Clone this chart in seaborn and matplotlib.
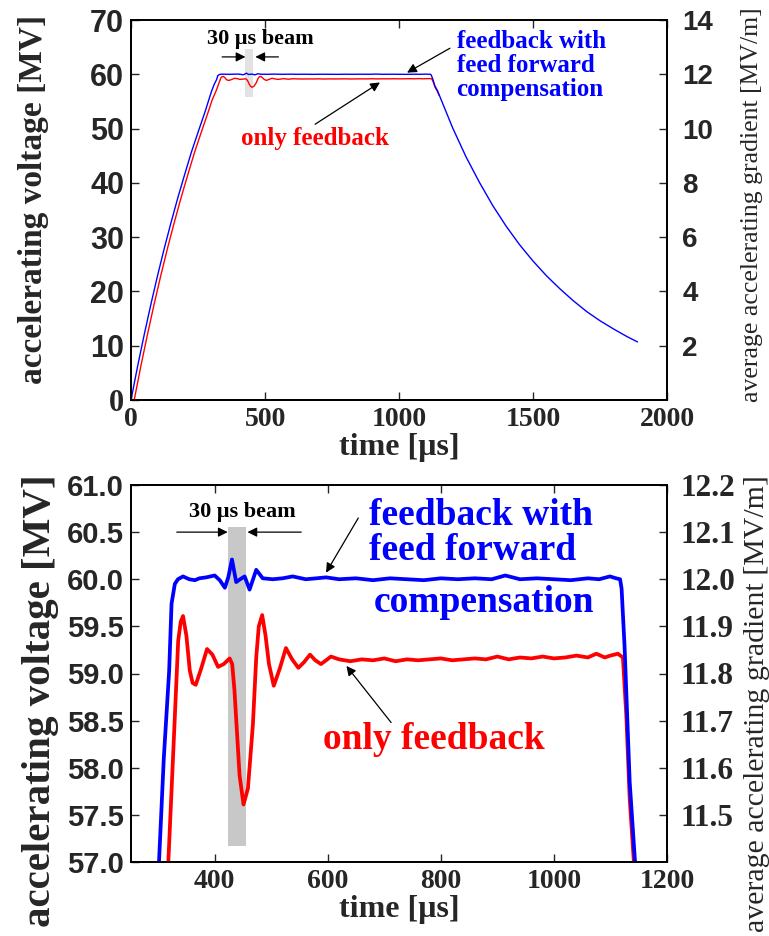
import matplotlib
matplotlib.use("Agg")
import matplotlib.pyplot as plt
from matplotlib.patches import Rectangle
import seaborn as sns
import numpy as np

# ---------------- data ----------------
t_blue = [0, 25, 50, 75, 100, 125, 150, 175, 200, 225, 250, 275, 300,
          310, 319.5, 323.7, 329.5, 335, 344, 355, 365, 373, 385, 400, 409, 418,
          424, 430.6, 438, 445, 453, 461.7, 473.5, 485, 503, 520, 538, 561, 580,
          597, 620, 650, 680, 710, 740, 770, 800, 830, 860, 890, 914, 940, 970,
          1000, 1030, 1060, 1080, 1099, 1110, 1117, 1119.7, 1125, 1134, 1144,
          1150, 1200, 1250, 1300, 1350, 1400, 1450, 1500, 1550, 1600, 1650,
          1700, 1750, 1800, 1850, 1890]
v_blue = [0, 6.3, 12.2, 17.8, 23.1, 28.1, 32.8, 37.3, 41.5, 45.6, 49.3, 52.9, 56.8,
          58.1, 59.03, 59.74, 59.95, 60.0, 60.03, 60.0, 59.99, 60.01, 60.02, 60.04, 59.99, 59.91,
          60.02, 60.21, 59.97, 60.0, 60.03, 59.89, 60.10, 60.01, 60.0, 60.01, 60.03, 60.0, 60.01,
          60.02, 60.0, 60.01, 59.99, 60.01, 60.0, 59.99, 60.01, 60.0, 60.01, 60.0, 60.04, 60.0, 60.01,
          60.0, 59.99, 60.01, 60.0, 60.03, 60.01, 60.0, 59.9, 59.28, 57.85, 56.95,
          56.2, 50.15, 44.8, 40.1, 35.8, 32.0, 28.6, 25.6, 22.9, 20.5, 18.3,
          16.3, 14.6, 13.1, 11.7, 10.7]

t_red = [12, 37, 62, 87, 112, 137, 162, 187, 212, 237, 262, 287, 303,
         317.8, 327, 335.5, 340, 344, 350, 356, 361, 366.5, 376, 386.5, 396, 406,
         416, 426.5, 431, 435, 444, 451, 458.8, 467.6, 473.5, 478, 484, 490, 496,
         504.5, 515, 526, 537, 548, 558, 568.6, 578, 588, 597, 605.6, 620, 640,
         660, 680, 700, 720, 740, 760, 780, 800, 820, 840, 860, 880, 900, 920,
         940, 960, 980, 1000, 1020, 1040, 1060, 1075, 1090, 1100, 1113, 1122,
         1128, 1134, 1142, 1150]
v_red = [0, 6.3, 12.2, 17.8, 23.1, 28.1, 32.8, 37.3, 41.5, 45.6, 49.3, 52.9, 55.3,
         56.97, 58.2, 59.35, 59.55, 59.61, 59.4, 59.03, 58.9, 58.88, 59.05, 59.26, 59.2, 59.07,
         59.1, 59.16, 59.1, 58.82, 57.92, 57.61, 57.78, 58.46, 59.17, 59.5, 59.62, 59.4, 59.1,
         58.87, 59.05, 59.27, 59.15, 59.06, 59.12, 59.20, 59.14, 59.10, 59.14, 59.18, 59.15, 59.13,
         59.15, 59.14, 59.16, 59.13, 59.15, 59.14, 59.15, 59.16, 59.14, 59.15, 59.16, 59.15, 59.18, 59.15,
         59.17, 59.16, 59.18, 59.16, 59.17, 59.19, 59.17, 59.21, 59.17, 59.19, 59.21, 59.17,
         58.56, 57.67, 56.95, 56.1]

beam_start, beam_end = 425, 457

top_xticks = [0, 500, 1000, 1500, 2000]
top_yticks = [0, 10, 20, 30, 40, 50, 60, 70]
top_rticks = [2, 4, 6, 8, 10, 12, 14]
bot_xticks = [400, 600, 800, 1000, 1200]
bot_yticks = [57.0, 57.5, 58.0, 58.5, 59.0, 59.5, 60.0, 60.5, 61.0]
bot_rticks = [11.5, 11.6, 11.7, 11.8, 11.9, 12.0, 12.1, 12.2]

ylabel_left = "accelerating voltage [MV]"
ylabel_right = "average accelerating gradient [MV/m]"
xlabel = "time [\u03bcs]"
beam_label = "30 \u03bcs beam"
ff_label = "feedback with\nfeed forward\ncompensation"
fb_label = "only feedback"

# ---------------- style ----------------
sns.set_style("ticks")
plt.rcParams["font.family"] = ["Liberation Serif", "DejaVu Serif"]
plt.rcParams["axes.linewidth"] = 1.3
SANS = ["Liberation Sans", "DejaVu Sans"]
SERIF = ["Liberation Serif", "DejaVu Serif"]

fig = plt.figure(figsize=(7.69, 9.36), dpi=100)
W, H = 769, 936
ax1 = fig.add_axes([131 / W, 1 - 400 / H, 536 / W, 380 / H])
ax3 = fig.add_axes([131 / W, 1 - 862 / H, 536 / W, 377 / H])


def style_ticks(labels, family, size):
    for lab in labels:
        lab.set_fontfamily(family)
        lab.set_fontweight("bold")
        lab.set_fontsize(size)


def draw(ax, lw):
    sns.lineplot(x=t_red, y=v_red, ax=ax, color="#ff0000", lw=lw,
                 estimator=None, errorbar=None, zorder=3)
    sns.lineplot(x=t_blue, y=v_blue, ax=ax, color="#0000ff", lw=lw,
                 estimator=None, errorbar=None, zorder=4)


def arrow(ax, head, tail, lw=0.9, ms=14):
    ax.annotate("", xy=head, xytext=tail,
                arrowprops=dict(arrowstyle="-|>", color="black", lw=lw,
                                mutation_scale=ms, shrinkA=0, shrinkB=0),
                zorder=5)


# ================= top panel =================
ax1.add_patch(Rectangle((beam_start, 55.8), beam_end - beam_start, 64.6 - 55.8,
                        facecolor="#e2e2e2", edgecolor="none", zorder=1))
draw(ax1, 1.0)
ax1.set_xlim(0, 2000)
ax1.set_ylim(0, 70)
ax1.set_xticks(top_xticks, [str(v) for v in top_xticks])
ax1.set_yticks(top_yticks, [str(v) for v in top_yticks])
ax1.tick_params(direction="in", top=True, right=False, length=6, width=1, pad=5)
style_ticks(ax1.get_xticklabels(), SERIF, 20)
style_ticks(ax1.get_yticklabels(), SANS, 22)
ax1.get_yticklabels()[0].set_fontfamily(SERIF)
ax1.set_xlabel(xlabel, fontsize=23, fontweight="bold", labelpad=1)
ax1.set_ylabel(ylabel_left, fontsize=24, fontweight="bold")
ax1.yaxis.label.set_va("center")
ax1.yaxis.set_label_coords(-0.182, 0.527)

ax2 = ax1.twinx()
ax2.set_ylim(0, 14)
ax2.set_yticks(top_rticks, [str(v) for v in top_rticks])
ax2.tick_params(direction="in", length=6, width=1, pad=11)
style_ticks(ax2.get_yticklabels(), SANS, 20)
ax2.set_ylabel(ylabel_right, fontsize=18.5)
ax2.yaxis.label.set_va("center")
ax2.yaxis.set_label_coords(1.158, 0.515)

ax1.text(481, 66.5, beam_label, ha="center", va="center", fontsize=16,
         fontweight="bold", color="black")
arrow(ax1, (427, 63.2), (340, 63.2))
arrow(ax1, (464, 63.2), (550, 63.2))
ax1.text(1215, 61.6, ff_label, ha="left", va="center", fontsize=18,
         fontweight="bold", color="#0000ff", linespacing=1.05)
arrow(ax1, (1030, 60.3), (1190, 64.8))
ax1.text(687, 48.2, fb_label, ha="center", va="center", fontsize=18,
         fontweight="bold", color="#ff0000")
arrow(ax1, (929, 58.5), (687, 50.8))

# ================= bottom panel =================
ax3.add_patch(Rectangle((beam_start - 2, 57.17), beam_end - beam_start, 60.55 - 57.17,
                        facecolor="#c8c8c8", edgecolor="none", zorder=1))
draw(ax3, 2.7)
ax3.set_xlim(252, 1200)
ax3.set_ylim(57.0, 61.0)
ax3.set_xticks(bot_xticks, [str(v) for v in bot_xticks])
ax3.set_yticks(bot_yticks, ["%.1f" % v for v in bot_yticks])
ax3.tick_params(direction="in", top=True, right=False, length=6, width=1, pad=5)
style_ticks(ax3.get_xticklabels(), SERIF, 20)
style_ticks(ax3.get_yticklabels(), SANS, 21)
ax3.set_xlabel(xlabel, fontsize=23, fontweight="bold", labelpad=1)
ax3.set_ylabel(ylabel_left, fontsize=29.5, fontweight="bold")
ax3.yaxis.label.set_va("center")
ax3.yaxis.set_label_coords(-0.168, 0.427)

ax4 = ax3.twinx()
ax4.set_ylim(57.0 / 5, 61.0 / 5)
ax4.set_yticks(bot_rticks, ["%.1f" % v for v in bot_rticks])
ax4.tick_params(direction="in", length=6, width=1, pad=10)
style_ticks(ax4.get_yticklabels(), SERIF, 22.5)
ax4.set_ylabel(ylabel_right, fontsize=21.5)
ax4.yaxis.label.set_va("center")
ax4.yaxis.set_label_coords(1.168, 0.42)

ax3.text(449, 60.71, beam_label, ha="center", va="center", fontsize=16,
         fontweight="bold", color="black")
arrow(ax3, (423, 60.5), (333, 60.5))
arrow(ax3, (458, 60.5), (553, 60.5))
ax3.text(673, 60.68, "feedback with", ha="left", va="center", fontsize=27,
         fontweight="bold", color="#0000ff")
ax3.text(673, 60.31, "feed forward", ha="left", va="center", fontsize=27,
         fontweight="bold", color="#0000ff")
ax3.text(682, 59.75, "compensation", ha="left", va="center", fontsize=27,
         fontweight="bold", color="#0000ff")
arrow(ax3, (597, 60.07), (654, 60.65))
ax3.text(788, 58.30, fb_label, ha="center", va="center", fontsize=27,
         fontweight="bold", color="#ff0000")
arrow(ax3, (633, 59.08), (712, 58.48))

for ax in (ax1, ax2, ax3, ax4):
    for s in ax.spines.values():
        s.set_visible(True)
        s.set_linewidth(1.3)
        s.set_color("black")

fig.savefig("out.png", dpi=100)
